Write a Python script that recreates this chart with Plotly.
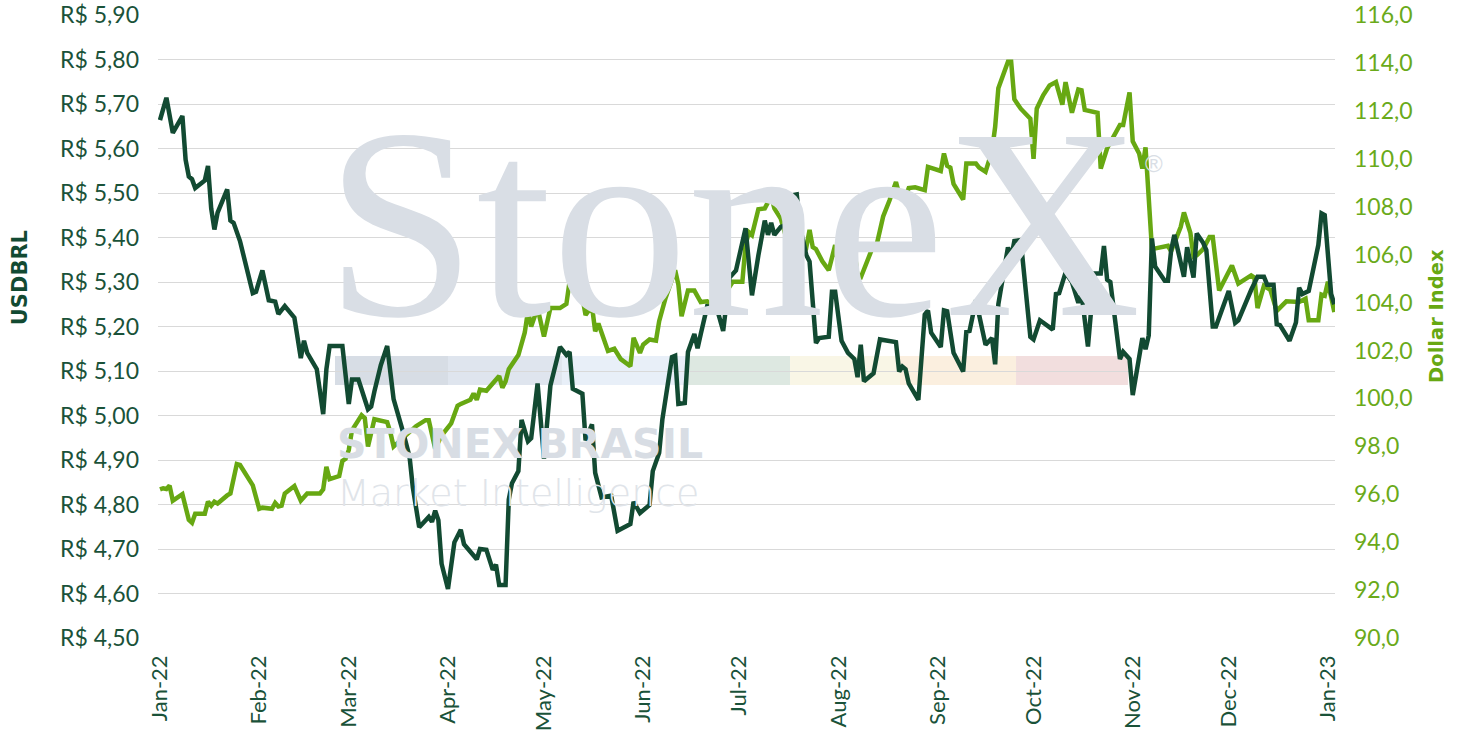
import plotly.graph_objects as go

# ---------------- data ----------------
usd_dates = [
    "2022-01-01", "2022-01-03", "2022-01-05", "2022-01-08", "2022-01-09", "2022-01-10", "2022-01-11", "2022-01-12",
    "2022-01-15", "2022-01-16", "2022-01-17", "2022-01-18", "2022-01-19", "2022-01-22", "2022-01-23", "2022-01-24",
    "2022-01-26", "2022-01-30", "2022-01-31", "2022-02-02", "2022-02-04", "2022-02-06", "2022-02-07", "2022-02-09",
    "2022-02-12", "2022-02-14", "2022-02-15", "2022-02-16", "2022-02-19", "2022-02-21", "2022-02-22", "2022-02-23",
    "2022-02-27", "2022-03-01", "2022-03-02", "2022-03-04", "2022-03-07", "2022-03-08", "2022-03-09", "2022-03-11",
    "2022-03-13", "2022-03-15", "2022-03-18", "2022-03-20", "2022-03-21", "2022-03-23", "2022-03-26", "2022-03-27",
    "2022-03-28", "2022-03-29", "2022-03-30", "2022-04-01", "2022-04-03", "2022-04-05", "2022-04-06", "2022-04-08",
    "2022-04-10", "2022-04-11", "2022-04-13", "2022-04-15", "2022-04-16", "2022-04-17", "2022-04-19", "2022-04-20",
    "2022-04-21", "2022-04-23", "2022-04-24", "2022-04-26", "2022-04-27", "2022-04-29", "2022-05-01", "2022-05-03",
    "2022-05-06", "2022-05-08", "2022-05-09", "2022-05-10", "2022-05-13", "2022-05-14", "2022-05-16", "2022-05-17",
    "2022-05-19", "2022-05-22", "2022-05-24", "2022-05-28", "2022-05-29", "2022-05-31", "2022-06-03", "2022-06-04",
    "2022-06-06", "2022-06-07", "2022-06-10", "2022-06-11", "2022-06-12", "2022-06-14", "2022-06-15", "2022-06-17",
    "2022-06-18", "2022-06-19", "2022-06-21", "2022-06-24", "2022-06-26", "2022-06-28", "2022-06-30", "2022-07-03",
    "2022-07-05", "2022-07-07", "2022-07-09", "2022-07-10", "2022-07-11", "2022-07-12", "2022-07-14", "2022-07-16",
    "2022-07-17", "2022-07-19", "2022-07-20", "2022-07-22", "2022-07-23", "2022-07-25", "2022-07-26", "2022-07-29",
    "2022-07-30", "2022-07-31", "2022-08-02", "2022-08-04", "2022-08-06", "2022-08-07", "2022-08-08", "2022-08-09",
    "2022-08-12", "2022-08-14", "2022-08-19", "2022-08-20", "2022-08-21", "2022-08-22", "2022-08-23", "2022-08-26",
    "2022-08-28", "2022-08-29", "2022-08-30", "2022-09-02", "2022-09-03", "2022-09-04", "2022-09-06", "2022-09-09",
    "2022-09-10", "2022-09-11", "2022-09-13", "2022-09-16", "2022-09-18", "2022-09-19", "2022-09-20", "2022-09-23",
    "2022-09-24", "2022-09-25", "2022-09-27", "2022-09-30", "2022-10-01", "2022-10-03", "2022-10-07", "2022-10-08",
    "2022-10-09", "2022-10-11", "2022-10-13", "2022-10-15", "2022-10-16", "2022-10-18", "2022-10-20", "2022-10-22",
    "2022-10-23", "2022-10-24", "2022-10-25", "2022-10-28", "2022-10-29", "2022-10-31", "2022-11-01", "2022-11-04",
    "2022-11-05", "2022-11-06", "2022-11-07", "2022-11-08", "2022-11-09", "2022-11-11", "2022-11-12", "2022-11-13",
    "2022-11-14", "2022-11-17", "2022-11-18", "2022-11-20", "2022-11-21", "2022-11-23", "2022-11-24", "2022-11-26",
    "2022-11-27", "2022-12-01", "2022-12-03", "2022-12-04", "2022-12-08", "2022-12-10", "2022-12-12", "2022-12-13",
    "2022-12-15", "2022-12-16", "2022-12-17", "2022-12-20", "2022-12-22", "2022-12-23", "2022-12-24", "2022-12-26",
    "2022-12-29", "2022-12-30", "2022-12-31", "2023-01-02", "2023-01-03",
]
usd_values = [
    5.664, 5.714, 5.635, 5.673, 5.575, 5.537, 5.531, 5.511,
    5.528, 5.561, 5.465, 5.418, 5.456, 5.508, 5.438, 5.433,
    5.392, 5.275, 5.278, 5.326, 5.259, 5.256, 5.228, 5.246,
    5.220, 5.129, 5.168, 5.141, 5.104, 5.003, 5.104, 5.156,
    5.156, 5.026, 5.081, 5.081, 5.014, 5.020, 5.054, 5.113,
    5.156, 5.037, 4.962, 4.907, 4.839, 4.749, 4.772, 4.761,
    4.786, 4.765, 4.667, 4.610, 4.715, 4.743, 4.711, 4.692,
    4.677, 4.700, 4.698, 4.653, 4.665, 4.619, 4.619, 4.811,
    4.848, 4.875, 4.990, 4.942, 4.949, 5.072, 4.903, 5.067,
    5.154, 5.136, 5.143, 5.060, 5.049, 4.944, 4.980, 4.871,
    4.816, 4.820, 4.741, 4.756, 4.806, 4.781, 4.799, 4.875,
    4.916, 4.991, 5.131, 5.134, 5.026, 5.028, 5.143, 5.183,
    5.151, 5.183, 5.245, 5.241, 5.190, 5.310, 5.326, 5.421,
    5.270, 5.360, 5.438, 5.406, 5.433, 5.406, 5.424, 5.429,
    5.494, 5.497, 5.424, 5.360, 5.346, 5.163, 5.174, 5.177,
    5.278, 5.278, 5.168, 5.141, 5.127, 5.086, 5.159, 5.077,
    5.095, 5.171, 5.165, 5.099, 5.110, 5.104, 5.072, 5.035,
    5.227, 5.236, 5.186, 5.154, 5.236, 5.234, 5.141, 5.099,
    5.188, 5.190, 5.259, 5.159, 5.174, 5.115, 5.250, 5.378,
    5.354, 5.392, 5.394, 5.177, 5.171, 5.214, 5.193, 5.273,
    5.275, 5.321, 5.300, 5.253, 5.275, 5.155, 5.319, 5.319,
    5.381, 5.305, 5.300, 5.127, 5.143, 5.127, 5.046, 5.174,
    5.149, 5.180, 5.398, 5.335, 5.323, 5.303, 5.303, 5.371,
    5.406, 5.312, 5.378, 5.310, 5.409, 5.388, 5.372, 5.200,
    5.200, 5.280, 5.208, 5.214, 5.282, 5.312, 5.312, 5.294,
    5.294, 5.205, 5.203, 5.168, 5.209, 5.287, 5.273, 5.280,
    5.383, 5.454, 5.450, 5.273, 5.250,
]

dxy_dates = [
    "2022-01-01", "2022-01-02", "2022-01-03", "2022-01-04", "2022-01-05", "2022-01-08", "2022-01-10", "2022-01-11",
    "2022-01-12", "2022-01-15", "2022-01-16", "2022-01-17", "2022-01-18", "2022-01-19", "2022-01-22", "2022-01-23",
    "2022-01-25", "2022-01-26", "2022-01-30", "2022-02-01", "2022-02-02", "2022-02-05", "2022-02-06", "2022-02-07",
    "2022-02-08", "2022-02-09", "2022-02-12", "2022-02-14", "2022-02-16", "2022-02-20", "2022-02-21", "2022-02-22",
    "2022-02-23", "2022-02-26", "2022-02-27", "2022-02-28", "2022-03-01", "2022-03-02", "2022-03-05", "2022-03-06",
    "2022-03-07", "2022-03-09", "2022-03-13", "2022-03-14", "2022-03-15", "2022-03-19", "2022-03-22", "2022-03-25",
    "2022-03-26", "2022-03-28", "2022-03-30", "2022-04-02", "2022-04-04", "2022-04-05", "2022-04-08", "2022-04-09",
    "2022-04-10", "2022-04-11", "2022-04-13", "2022-04-17", "2022-04-18", "2022-04-19", "2022-04-20", "2022-04-23",
    "2022-04-25", "2022-04-26", "2022-04-27", "2022-04-29", "2022-05-01", "2022-05-03", "2022-05-06", "2022-05-08",
    "2022-05-09", "2022-05-11", "2022-05-13", "2022-05-14", "2022-05-16", "2022-05-17", "2022-05-18", "2022-05-21",
    "2022-05-23", "2022-05-25", "2022-05-28", "2022-05-29", "2022-05-31", "2022-06-01", "2022-06-03", "2022-06-05",
    "2022-06-06", "2022-06-08", "2022-06-10", "2022-06-11", "2022-06-12", "2022-06-13", "2022-06-15", "2022-06-17",
    "2022-06-19", "2022-06-21", "2022-06-24", "2022-06-26", "2022-06-27", "2022-06-29", "2022-07-02", "2022-07-03",
    "2022-07-04", "2022-07-05", "2022-07-07", "2022-07-09", "2022-07-11", "2022-07-12", "2022-07-14", "2022-07-16",
    "2022-07-17", "2022-07-19", "2022-07-22", "2022-07-23", "2022-07-24", "2022-07-25", "2022-07-27", "2022-07-29",
    "2022-07-31", "2022-08-01", "2022-08-02", "2022-08-06", "2022-08-07", "2022-08-08", "2022-08-11", "2022-08-12",
    "2022-08-13", "2022-08-15", "2022-08-17", "2022-08-19", "2022-08-20", "2022-08-22", "2022-08-23", "2022-08-25",
    "2022-08-28", "2022-08-29", "2022-09-02", "2022-09-03", "2022-09-04", "2022-09-05", "2022-09-06", "2022-09-09",
    "2022-09-10", "2022-09-13", "2022-09-14", "2022-09-16", "2022-09-18", "2022-09-19", "2022-09-20", "2022-09-23",
    "2022-09-24", "2022-09-25", "2022-09-27", "2022-09-30", "2022-10-01", "2022-10-02", "2022-10-04", "2022-10-06",
    "2022-10-08", "2022-10-10", "2022-10-11", "2022-10-13", "2022-10-15", "2022-10-16", "2022-10-17", "2022-10-21",
    "2022-10-22", "2022-10-24", "2022-10-28", "2022-10-29", "2022-10-31", "2022-11-01", "2022-11-03", "2022-11-04",
    "2022-11-05", "2022-11-06", "2022-11-07", "2022-11-12", "2022-11-13", "2022-11-16", "2022-11-17", "2022-11-19",
    "2022-11-20", "2022-11-21", "2022-11-23", "2022-11-25", "2022-11-26", "2022-11-28", "2022-12-02", "2022-12-04",
    "2022-12-08", "2022-12-09", "2022-12-10", "2022-12-12", "2022-12-14", "2022-12-16", "2022-12-19", "2022-12-23",
    "2022-12-25", "2022-12-26", "2022-12-29", "2022-12-30", "2022-12-31", "2023-01-01", "2023-01-03",
]
dxy_values = [
    96.20, 96.25, 96.22, 96.36, 95.73, 96.00, 94.93, 94.81,
    95.19, 95.19, 95.69, 95.52, 95.69, 95.61, 95.95, 96.03,
    97.26, 97.22, 96.37, 95.39, 95.44, 95.39, 95.64, 95.49,
    95.52, 96.03, 96.34, 95.73, 96.03, 96.03, 96.20, 97.14,
    96.63, 96.76, 97.39, 97.48, 97.85, 98.67, 99.30, 99.18,
    97.99, 99.13, 99.01, 98.58, 97.99, 98.50, 98.84, 99.09,
    99.09, 97.90, 98.45, 98.96, 99.69, 99.77, 99.94, 100.20,
    99.94, 100.37, 100.32, 100.93, 100.45, 100.71, 101.22, 101.81,
    102.75, 103.65, 103.00, 103.77, 102.58, 103.77, 103.77, 103.94,
    104.87, 104.62, 104.22, 103.48, 103.85, 102.80, 103.12, 101.98,
    102.07, 101.64, 101.34, 102.53, 101.90, 102.24, 102.46, 102.41,
    103.22, 104.19, 104.96, 105.35, 104.75, 103.43, 104.50, 104.50,
    104.02, 104.05, 103.68, 104.70, 104.46, 104.87, 104.87, 106.40,
    106.94, 106.82, 107.89, 107.93, 108.44, 107.93, 107.50, 106.57,
    106.94, 106.60, 106.31, 107.03, 106.31, 106.23, 105.72, 105.35,
    106.40, 105.58, 106.48, 106.26, 105.04, 105.04, 106.06, 106.40,
    106.43, 107.59, 108.27, 109.03, 108.52, 108.40, 108.78, 108.81,
    108.69, 109.66, 109.49, 110.22, 109.71, 109.63, 108.95, 108.30,
    109.80, 109.80, 109.63, 109.46, 110.31, 111.33, 112.94, 114.05,
    114.05, 112.48, 112.09, 111.67, 110.00, 112.09, 112.65, 113.06,
    113.20, 112.26, 113.20, 111.92, 112.89, 112.86, 112.04, 111.92,
    109.59, 110.44, 111.41, 111.41, 112.77, 110.73, 110.22, 109.59,
    110.48, 108.61, 106.23, 106.37, 106.14, 107.16, 107.76, 106.91,
    105.92, 105.97, 106.23, 106.74, 106.74, 104.50, 105.55, 104.79,
    105.13, 105.04, 103.77, 104.70, 104.53, 103.65, 104.05, 104.02,
    104.16, 103.26, 103.26, 104.33, 104.28, 104.87, 103.60,
]

usd_label = "USDBRL"
dxy_label = "Dollar Index"

# ---------------- styles ----------------
DARK = "#124a32"
LIGHT = "#67a812"
DARK_TXT = "#1a5239"
LIGHT_TXT = "#6aaa1a"
FONT = "Lato"

fig = go.Figure()
fig.add_trace(go.Scatter(
    x=dxy_dates, y=dxy_values, yaxis="y", mode="lines", name=dxy_label,
    line=dict(color=LIGHT, width=4.5),
))
fig.add_trace(go.Scatter(
    x=usd_dates, y=usd_values, yaxis="y2", mode="lines", name=usd_label,
    line=dict(color=DARK, width=4.5),
))

# watermark band (logo decoration)
band_edges = [0.1504, 0.2464, 0.3432, 0.4494, 0.5370, 0.6304, 0.7290, 0.8241]
band_colors = ["#d7dde5", "#dfe5ee", "#e8eff8", "#dde8e1", "#f9f6e6", "#fbefdf", "#f2dede"]
shapes = []
for i, c in enumerate(band_colors):
    shapes.append(dict(type="rect", xref="paper", yref="paper",
                       x0=band_edges[i], x1=band_edges[i + 1], y0=0.406, y1=0.4526,
                       fillcolor=c, line=dict(width=0), layer="below"))

annotations = [
    dict(text="StoneX", xref="paper", yref="paper", x=0.140, y=0.665,
         xanchor="left", yanchor="middle", showarrow=False,
         font=dict(family="Liberation Serif", size=272, color="#d9dee5")),
    dict(text="®", xref="paper", yref="paper", x=0.846, y=0.762,
         xanchor="center", yanchor="middle", showarrow=False,
         font=dict(family="Liberation Sans", size=24, color="#d9dee5")),
    dict(text="STONEX BRASIL", xref="paper", yref="paper", x=0.150, y=0.311,
         xanchor="left", yanchor="middle", showarrow=False,
         font=dict(family="DejaVu Sans", size=41, color="#d8dde4", weight="bold")),
    dict(text="Market Intelligence", xref="paper", yref="paper", x=0.150, y=0.232,
         xanchor="left", yanchor="middle", showarrow=False,
         font=dict(family="DejaVu Sans", size=38, color="#e0e4e9", weight=200)),
    dict(text="<b>" + usd_label + "</b>", xref="paper", yref="paper", x=-0.117, y=0.578,
         xanchor="center", yanchor="middle", textangle=-90, showarrow=False,
         font=dict(family="DejaVu Sans", size=21, color=DARK)),
    dict(text="<b>" + dxy_label + "</b>", xref="paper", yref="paper", x=1.0867, y=0.517,
         xanchor="center", yanchor="middle", textangle=-90, showarrow=False,
         font=dict(family="DejaVu Sans", size=19.5, color=LIGHT)),
]

fig.update_layout(
    width=1461, height=740,
    margin=dict(l=158, r=126, t=15, b=102, autoexpand=False),
    paper_bgcolor="white", plot_bgcolor="rgba(0,0,0,0)",
    showlegend=False,
    separators=",.",
    font=dict(family=FONT),
    shapes=shapes,
    annotations=annotations,
    xaxis=dict(
        type="date", automargin=False, ticklabeloverflow="allow",
        range=["2021-12-31 09:00", "2023-01-03 05:00"],
        tick0="2022-01-01", dtick="M1", tickformat="%b-%y",
        tickangle=-90, showgrid=False, zeroline=False, showline=False,
        ticks="", ticklabelstandoff=12,
        tickfont=dict(family=FONT, size=22, color=DARK_TXT),
    ),
    yaxis=dict(
        side="right", range=[90, 116], tick0=90, dtick=2, tickformat=".1f",
        automargin=False, ticklabeloverflow="allow",
        showgrid=False, zeroline=False, showline=False, ticks="",
        ticklabelstandoff=18,
        tickfont=dict(family=FONT, size=23, color=LIGHT_TXT),
    ),
    yaxis2=dict(
        side="left", overlaying="y", range=[4.5, 5.9], tick0=4.5, dtick=0.1,
        tickformat=".2f", tickprefix="R$ ", automargin=False,
        ticklabeloverflow="allow",
        showgrid=True, gridcolor="#d9d9d9", gridwidth=1,
        zeroline=False, showline=False, ticks="",
        ticklabelstandoff=18,
        tickfont=dict(family=FONT, size=23, color=DARK_TXT),
    ),
)

# remove the browser's default page margin so the figure sits at the window corner
fig.write_html("out.html", config={"displayModeBar": False},
               post_script="document.body.style.margin='0';")
